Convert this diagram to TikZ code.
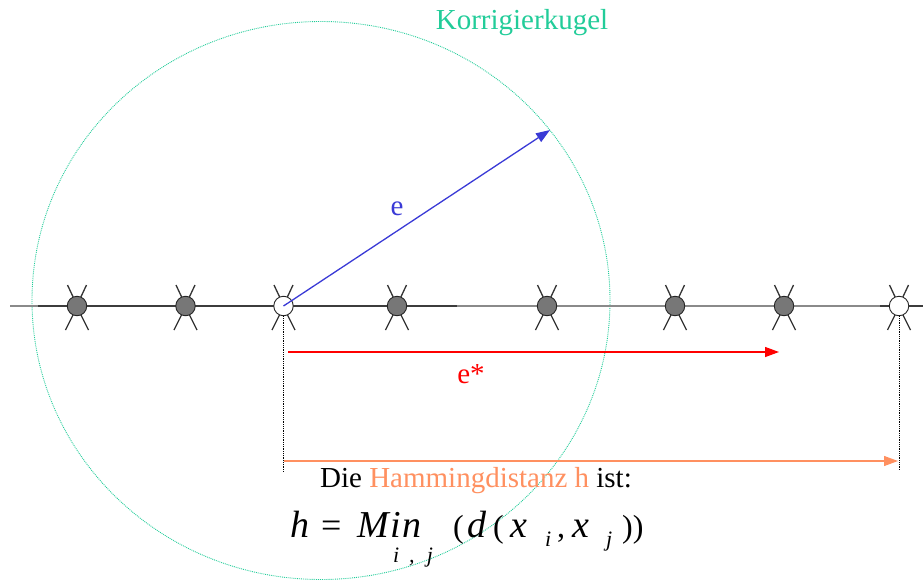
\documentclass[tikz,border=0pt]{standalone}
\usepackage{fontspec}
\setmainfont{Liberation Serif}
\usetikzlibrary{arrows.meta,shapes.geometric}
\definecolor{kugelgreen}{HTML}{22CC99}
\definecolor{eblue}{HTML}{3A3AD6}
\definecolor{hamorange}{HTML}{FF9060}
\definecolor{linedark}{HTML}{3C3C3C}
\definecolor{linelight}{HTML}{8A8A8A}
\definecolor{bitgray}{HTML}{777777}
\tikzset{
  bitnode/.style={circle, draw=black!85, line width=0.9pt, fill=bitgray, minimum size=19.5pt, inner sep=0pt},
  bitwhite/.style={bitnode, fill=white},
  leg/.style={draw=black!80, line width=1.3pt},
  vecarrow/.style={line width=1.3pt, -{Triangle[length=14pt,width=10pt]}},
  dotline/.style={draw=black, line width=0.8pt, densely dotted},
  bigtext/.style={inner sep=0pt, font=\fontsize{29}{34}\selectfont},
  frm/.style={inner sep=0pt, anchor=base west, font=\fontsize{38}{46}\selectfont\itshape},
  frmup/.style={inner sep=0pt, anchor=base west, font=\fontsize{32}{38}\selectfont},
  frmeq/.style={inner sep=0pt, anchor=base west, font=\fontsize{36}{42}\selectfont},
  frmsub/.style={inner sep=0pt, anchor=base west, font=\fontsize{22}{26}\selectfont\itshape},
}
\begin{document}
\begin{tikzpicture}[x=1pt,y=-1pt]
\useasboundingbox (0,0) rectangle (923,581);
% Korrigierkugel
\node[ellipse, draw=kugelgreen, line width=0.9pt, densely dotted, minimum width=578pt, minimum height=558pt, inner sep=0pt] (kugel) at (321,300.5) {};
\node[bigtext, text=kugelgreen, anchor=base] (klabel) at (522,29) {Korrigierkugel};
% main line
\coordinate (l0) at (10,306);
\coordinate (l1) at (38,306);
\coordinate (l2) at (457,306);
\coordinate (l3) at (880,306);
\coordinate (l4) at (923,306);
\draw[linelight, line width=1.8pt] (l0) -- (l1);
\draw[linedark, line width=1.8pt] (l1) -- (l2);
\draw[linelight, line width=1.8pt] (l2) -- (l3);
\draw[linedark, line width=1.8pt] (l3) -- (l4);
% code words
\foreach \i/\x/\s in {1/77/bitnode,2/185.5/bitnode,3/283.5/bitwhite,4/397/bitnode,5/547/bitnode,6/675/bitnode,7/784/bitnode,8/899/bitwhite}{
  \coordinate (c\i) at (\x,306);
  \draw[leg] ([shift={(-2,-5)}]c\i) -- ([shift={(-9.5,-21)}]c\i);
  \draw[leg] ([shift={(2,-5)}]c\i) -- ([shift={(9.5,-21)}]c\i);
  \draw[leg] ([shift={(-2,5)}]c\i) -- ([shift={(-11.5,24)}]c\i);
  \draw[leg] ([shift={(2,5)}]c\i) -- ([shift={(11.5,24)}]c\i);
  \node[\s] (n\i) at (c\i) {};
}
% e vector
\coordinate (etip) at (550,130);
\draw[vecarrow, eblue] (n3.center) -- (etip);
\node[bigtext, text=eblue, anchor=base] (elabel) at (397,215) {e};
% e* vector
\coordinate (rs) at (288,352);
\coordinate (re) at (779,352);
\draw[vecarrow, red] (rs) -- (re);
\node[bigtext, text=red, anchor=base] (eslabel) at (471,383) {e*};
% dotted guides
\coordinate (d1) at (283.5,472);
\coordinate (d2) at (899,470);
\draw[dotline] (n3.south) -- (d1);
\draw[dotline] (n8.south) -- (d2);
% hamming distance arrow
\coordinate (os) at (283.5,461);
\coordinate (oe) at (898,461);
\draw[vecarrow, hamorange, line width=1.1pt] (os) -- (oe);
\node[bigtext, anchor=base] (htext) at (476,487) {Die \textcolor{hamorange}{Hammingdistanz h} ist:};
% formula
\node[frm] (fh) at (290,537) {h};
\node[frmeq] (feq) at (321,537) {=};
\node[frm] (fmin) at (357,537) {M\kern1.5pt i\kern1.5pt n};
\node[frmsub] (fij) at (393,562) {i\;\,,\;\;j};
\node[frmup] (fp1) at (453,537) {(};
\node[frm] (fd) at (467,537) {d};
\node[frmup] (fp2) at (493,537) {(};
\node[frm] (fx1) at (510,537) {x};
\node[frmsub] (fi) at (545,546) {i};
\node[frmup] (fcomma) at (557,537) {,};
\node[frm] (fx2) at (572,537) {x};
\node[frmsub] (fj) at (606,546) {j};
\node[frmup] (fp3) at (622,537) {))};
\end{tikzpicture}
\end{document}
